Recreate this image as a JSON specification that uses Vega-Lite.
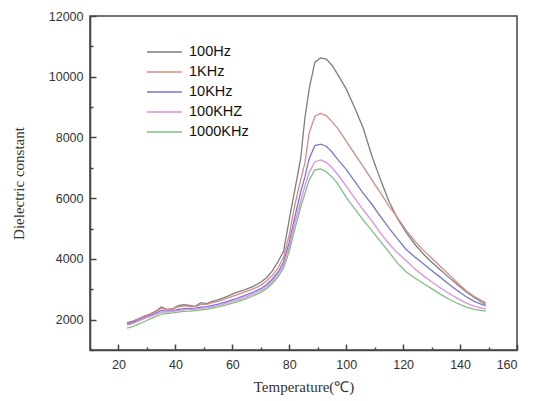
{
  "$schema": "https://vega.github.io/schema/vega-lite/v6.json",
  "width": 427,
  "height": 334,
  "autosize": {"type": "none"},
  "padding": {"left": 90, "top": 16, "right": 18, "bottom": 51},
  "background": "white",
  "config": {
    "view": {"stroke": "#444", "strokeWidth": 1.5},
    "axis": {"domainColor": "#444", "domainWidth": 1.5, "tickColor": "#444", "tickWidth": 1.5, "grid": false,
      "labelFont": "Liberation Sans", "labelFontSize": 12.5, "labelColor": "#333",
      "titleFont": "Liberation Serif", "titleFontSize": 15, "titleFontWeight": "normal", "titleColor": "#333"}
  },
  "data": {"values": [
    {"T":23,"100Hz":1900,"1KHz":1880,"10KHz":1850,"100KHZ":1820,"1000KHz":1720},
    {"T":25,"100Hz":1950,"1KHz":1930,"10KHz":1900,"100KHZ":1870,"1000KHz":1770},
    {"T":27,"100Hz":2030,"1KHz":2010,"10KHz":1980,"100KHZ":1950,"1000KHz":1850},
    {"T":29,"100Hz":2120,"1KHz":2100,"10KHz":2060,"100KHZ":2030,"1000KHz":1930},
    {"T":31,"100Hz":2180,"1KHz":2170,"10KHz":2130,"100KHZ":2100,"1000KHz":2020},
    {"T":33,"100Hz":2270,"1KHz":2250,"10KHz":2200,"100KHZ":2170,"1000KHz":2100},
    {"T":35,"100Hz":2420,"1KHz":2380,"10KHz":2300,"100KHZ":2250,"1000KHz":2180},
    {"T":37,"100Hz":2340,"1KHz":2330,"10KHz":2280,"100KHZ":2250,"1000KHz":2200},
    {"T":39,"100Hz":2360,"1KHz":2350,"10KHz":2300,"100KHZ":2270,"1000KHz":2220},
    {"T":41,"100Hz":2460,"1KHz":2420,"10KHz":2340,"100KHZ":2300,"1000KHz":2250},
    {"T":43,"100Hz":2490,"1KHz":2450,"10KHz":2360,"100KHZ":2320,"1000KHz":2270},
    {"T":45,"100Hz":2470,"1KHz":2440,"10KHz":2370,"100KHZ":2330,"1000KHz":2280},
    {"T":47,"100Hz":2440,"1KHz":2430,"10KHz":2380,"100KHZ":2350,"1000KHz":2300},
    {"T":49,"100Hz":2560,"1KHz":2500,"10KHz":2410,"100KHZ":2370,"1000KHz":2320},
    {"T":51,"100Hz":2530,"1KHz":2500,"10KHz":2430,"100KHZ":2390,"1000KHz":2340},
    {"T":53,"100Hz":2600,"1KHz":2560,"10KHz":2470,"100KHZ":2430,"1000KHz":2380},
    {"T":55,"100Hz":2650,"1KHz":2600,"10KHz":2510,"100KHZ":2470,"1000KHz":2420},
    {"T":58,"100Hz":2760,"1KHz":2700,"10KHz":2590,"100KHZ":2540,"1000KHz":2490},
    {"T":61,"100Hz":2880,"1KHz":2800,"10KHz":2680,"100KHZ":2630,"1000KHz":2570},
    {"T":64,"100Hz":2970,"1KHz":2900,"10KHz":2780,"100KHZ":2720,"1000KHz":2660},
    {"T":67,"100Hz":3080,"1KHz":3000,"10KHz":2890,"100KHZ":2830,"1000KHz":2770},
    {"T":70,"100Hz":3230,"1KHz":3130,"10KHz":3020,"100KHZ":2960,"1000KHz":2900},
    {"T":72,"100Hz":3380,"1KHz":3270,"10KHz":3150,"100KHZ":3080,"1000KHz":3020},
    {"T":74,"100Hz":3600,"1KHz":3450,"10KHz":3330,"100KHZ":3250,"1000KHz":3180},
    {"T":76,"100Hz":3900,"1KHz":3700,"10KHz":3560,"100KHZ":3480,"1000KHz":3400},
    {"T":78,"100Hz":4250,"1KHz":4050,"10KHz":3900,"100KHZ":3800,"1000KHz":3700},
    {"T":80,"100Hz":5300,"1KHz":4800,"10KHz":4550,"100KHZ":4400,"1000KHz":4250},
    {"T":82,"100Hz":6300,"1KHz":5800,"10KHz":5400,"100KHZ":5200,"1000KHz":5000},
    {"T":84,"100Hz":7300,"1KHz":6600,"10KHz":6200,"100KHZ":5900,"1000KHz":5700},
    {"T":85.5,"100Hz":8650,"1KHz":7160,"10KHz":6700,"100KHZ":6400,"1000KHz":6150},
    {"T":87,"100Hz":9600,"1KHz":8150,"10KHz":7300,"100KHZ":6850,"1000KHz":6600},
    {"T":89,"100Hz":10480,"1KHz":8700,"10KHz":7730,"100KHZ":7200,"1000KHz":6930},
    {"T":91,"100Hz":10620,"1KHz":8790,"10KHz":7780,"100KHZ":7260,"1000KHz":6960},
    {"T":93,"100Hz":10580,"1KHz":8720,"10KHz":7710,"100KHZ":7180,"1000KHz":6870},
    {"T":95,"100Hz":10380,"1KHz":8520,"10KHz":7520,"100KHZ":7000,"1000KHz":6700},
    {"T":97,"100Hz":10080,"1KHz":8300,"10KHz":7280,"100KHZ":6780,"1000KHz":6480},
    {"T":100,"100Hz":9600,"1KHz":7880,"10KHz":6950,"100KHZ":6400,"1000KHz":6030},
    {"T":103,"100Hz":8980,"1KHz":7450,"10KHz":6550,"100KHZ":6000,"1000KHz":5650},
    {"T":106,"100Hz":8300,"1KHz":7040,"10KHz":6160,"100KHZ":5610,"1000KHz":5280},
    {"T":109,"100Hz":7400,"1KHz":6600,"10KHz":5800,"100KHZ":5250,"1000KHz":4930},
    {"T":112,"100Hz":6620,"1KHz":6180,"10KHz":5400,"100KHZ":4860,"1000KHz":4580},
    {"T":115,"100Hz":5900,"1KHz":5740,"10KHz":5020,"100KHZ":4500,"1000KHz":4230},
    {"T":118,"100Hz":5330,"1KHz":5360,"10KHz":4660,"100KHZ":4200,"1000KHz":3860},
    {"T":121,"100Hz":4880,"1KHz":4950,"10KHz":4320,"100KHZ":3950,"1000KHz":3580},
    {"T":124,"100Hz":4500,"1KHz":4600,"10KHz":4070,"100KHZ":3680,"1000KHz":3380},
    {"T":127,"100Hz":4170,"1KHz":4290,"10KHz":3850,"100KHZ":3450,"1000KHz":3200},
    {"T":130,"100Hz":3900,"1KHz":4030,"10KHz":3620,"100KHZ":3250,"1000KHz":3020},
    {"T":133,"100Hz":3640,"1KHz":3760,"10KHz":3400,"100KHZ":3050,"1000KHz":2840},
    {"T":136,"100Hz":3400,"1KHz":3490,"10KHz":3170,"100KHZ":2870,"1000KHz":2680},
    {"T":139,"100Hz":3160,"1KHz":3220,"10KHz":2960,"100KHZ":2700,"1000KHz":2540},
    {"T":142,"100Hz":2930,"1KHz":2960,"10KHz":2760,"100KHZ":2550,"1000KHz":2420},
    {"T":145,"100Hz":2730,"1KHz":2760,"10KHz":2600,"100KHZ":2440,"1000KHz":2340},
    {"T":149,"100Hz":2500,"1KHz":2550,"10KHz":2450,"100KHZ":2350,"1000KHz":2280}
  ]},
  "transform": [{"fold": ["100Hz", "1KHz", "10KHz", "100KHZ", "1000KHz"], "as": ["series", "value"]}],
  "mark": {"type": "line", "strokeWidth": 1.3},
  "encoding": {
    "x": {"field": "T", "type": "quantitative",
      "scale": {"domain": [10, 160], "nice": false, "zero": false},
      "axis": {"values": [10,20,30,40,50,60,70,80,90,100,110,120,130,140,150,160],
        "labelExpr": "datum.value % 20 === 0 && datum.value > 10 ? datum.label : ''",
        "tickSize": {"condition": {"test": "datum.value % 20 === 0", "value": -6}, "value": -3},
        "labelPadding": 14, "title": "Temperature(℃)", "titlePadding": 9}},
    "y": {"field": "value", "type": "quantitative",
      "scale": {"domain": [1000, 12000], "nice": false, "zero": false},
      "axis": {"values": [1000,2000,3000,4000,5000,6000,7000,8000,9000,10000,11000,12000],
        "labelExpr": "datum.value % 2000 === 0 ? datum.label : ''",
        "format": "d",
        "tickSize": {"condition": {"test": "datum.value % 2000 === 0", "value": -6}, "value": -3},
        "labelPadding": 13, "title": "Dielectric constant", "titlePadding": 22}},
    "color": {"field": "series", "type": "nominal",
      "sort": ["100Hz", "1KHz", "10KHz", "100KHZ", "1000KHz"],
      "scale": {"domain": ["100Hz", "1KHz", "10KHz", "100KHZ", "1000KHz"],
        "range": ["#7d7d7d", "#d98a84", "#7676d6", "#e08ee6", "#7fc07f"]},
      "legend": {"orient": "none", "legendX": 56, "legendY": 27, "title": null,
        "symbolType": "stroke", "symbolSize": 1225, "symbolStrokeWidth": 1.5,
        "clipHeight": 18,
        "labelFont": "Liberation Sans", "labelFontSize": 14.5, "labelColor": "#111",
        "labelOffset": 6, "rowPadding": 2, "padding": 0}}
  }
}
